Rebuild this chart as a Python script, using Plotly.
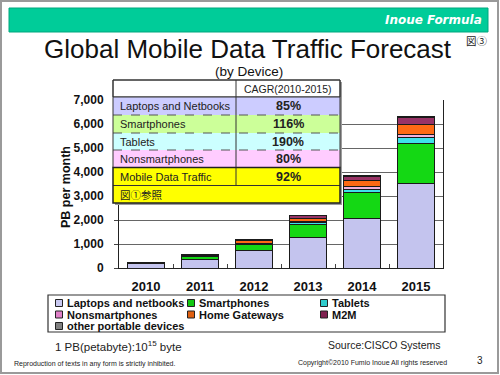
import plotly.graph_objects as go

# ---------------- data ----------------
years = ["2010", "2011", "2012", "2013", "2014", "2015"]
laptops = [180, 360, 720, 1260, 2070, 3540]
smartphones = [40, 110, 250, 570, 1070, 1660]
tablets = [3, 15, 40, 50, 140, 220]
nonsmartphones = [10, 20, 30, 40, 110, 160]
home_gateways = [5, 40, 100, 150, 250, 380]
m2m = [3, 10, 30, 100, 190, 300]
other_portable = [2, 5, 10, 15, 25, 40]

series_names = ["Laptops and netbooks", "Smartphones", "Tablets", "Nonsmartphones",
                "Home Gateways", "M2M", "other portable devices"]
series_values = [laptops, smartphones, tablets, nonsmartphones, home_gateways, m2m, other_portable]
bar_colors = ["#C4C4EE", "#14D814", "#3DE3EA", "#F4B2DC", "#FF6A14", "#993366", "#808080"]
legend_colors = ["#C8C8F0", "#12C812", "#30CCCC", "#E080C8", "#E06010", "#802050", "#808080"]

table_labels = ["Laptops and Netbooks", "Smartphones", "Tablets", "Nonsmartphones", "Mobile Data Traffic"]
table_cagr = ["85%", "116%", "190%", "80%", "92%"]
table_colors = ["#CCCCFF", "#CCFF99", "#CCFFFF", "#FFCCFF", "#FFFF00"]

ytick_vals = [0, 1000, 2000, 3000, 4000, 5000, 6000, 7000]

# ---------------- geometry helpers ----------------
W, H = 500, 375
PL, PR, PT, PB = 119, 443, 100, 268


def px(x):
    return (x - PL) / (PR - PL)


def py(y):
    return (PB - y) / (PB - PT)


FONT = "Liberation Sans, Arial, sans-serif"

fig = go.Figure()
for name, vals, col in zip(series_names, series_values, bar_colors):
    fig.add_trace(go.Bar(
        x=years, y=vals, name=name, marker=dict(color=col, line=dict(color="#1a1a1a", width=1)),
        showlegend=False,
    ))

shapes = []
annotations = []

# slide frame
shapes.append(dict(type="rect", xref="paper", yref="paper", x0=px(1), x1=px(498), y0=py(1), y1=py(373),
                   line=dict(color="#9a9a9a", width=2), fillcolor="rgba(0,0,0,0)", layer="below"))
# banner
shapes.append(dict(type="rect", xref="paper", yref="paper", x0=px(9), x1=px(488), y0=py(8), y1=py(32),
                   line=dict(color="#00A77E", width=1), fillcolor="#00CC99", layer="above"))
annotations.append(dict(xref="paper", yref="paper", x=px(484), y=py(20.5), xanchor="right", yanchor="middle",
                        text="<b><i>Inoue Formula</i></b>", showarrow=False,
                        font=dict(family="DejaVu Sans, sans-serif", size=12, color="white")))
# title
annotations.append(dict(xref="paper", yref="paper", x=px(248), y=py(49), xanchor="center", yanchor="middle",
                        text="Global Mobile Data Traffic Forecast", showarrow=False,
                        font=dict(family=FONT, size=26, color="#111")))
annotations.append(dict(xref="paper", yref="paper", x=px(464), y=py(41), xanchor="left", yanchor="middle",
                        text="図③", showarrow=False,
                        font=dict(family="Noto Sans CJK JP, sans-serif", size=10.5, color="#222")))
annotations.append(dict(xref="paper", yref="paper", x=px(248.5), y=py(71), xanchor="center", yanchor="middle",
                        text="(by Device)", showarrow=False,
                        font=dict(family=FONT, size=13.5, color="#111")))

# ---------------- CAGR table ----------------
TL, TM, TR = 113, 236, 340
row_edges = [80, 97, 115, 133, 150, 167.5, 185.5, 203]
# shadow
shapes.append(dict(type="rect", xref="paper", yref="paper", x0=px(TL + 2), x1=px(TR + 2),
                   y0=py(row_edges[0] + 2), y1=py(row_edges[-1] + 2),
                   line=dict(width=0), fillcolor="#9c9c9c", layer="above"))
# header
shapes.append(dict(type="rect", xref="paper", yref="paper", x0=px(TL), x1=px(TR),
                   y0=py(row_edges[0]), y1=py(row_edges[1]),
                   line=dict(color="#333", width=1), fillcolor="white", layer="above"))
for i, (lab, cg, col) in enumerate(zip(table_labels, table_cagr, table_colors)):
    y0, y1 = row_edges[i + 1], row_edges[i + 2]
    shapes.append(dict(type="rect", xref="paper", yref="paper", x0=px(TL), x1=px(TR), y0=py(y0), y1=py(y1),
                       line=dict(width=0), fillcolor=col, layer="above"))
    annotations.append(dict(xref="paper", yref="paper", x=px(TL + 5), y=py((y0 + y1) / 2),
                            xanchor="left", yanchor="middle", text=lab, showarrow=False,
                            font=dict(family=FONT, size=11, color="#222")))
    annotations.append(dict(xref="paper", yref="paper", x=px((TM + TR) / 2), y=py((y0 + y1) / 2),
                            xanchor="center", yanchor="middle", text="<b>" + cg + "</b>", showarrow=False,
                            font=dict(family=FONT, size=12.5, color="#222")))
# last merged row
shapes.append(dict(type="rect", xref="paper", yref="paper", x0=px(TL), x1=px(TR),
                   y0=py(row_edges[6]), y1=py(row_edges[7]),
                   line=dict(width=0), fillcolor="#FFFF00", layer="above"))
annotations.append(dict(xref="paper", yref="paper", x=px(TL + 5), y=py((row_edges[6] + row_edges[7]) / 2),
                        xanchor="left", yanchor="middle", text="図①参照", showarrow=False,
                        font=dict(family="Noto Sans CJK JP, sans-serif", size=10.5, color="#222")))
annotations.append(dict(xref="paper", yref="paper", x=px((TM + TR) / 2), y=py((row_edges[0] + row_edges[1]) / 2),
                        xanchor="center", yanchor="middle", text="CAGR(2010-2015)", showarrow=False,
                        font=dict(family=FONT, size=10.5, color="#222")))
# borders
for k in [2, 3, 4]:
    shapes.append(dict(type="line", xref="paper", yref="paper", x0=px(TL), x1=px(TR),
                       y0=py(row_edges[k]), y1=py(row_edges[k]),
                       line=dict(color="#555", width=1, dash="dash"), layer="above"))
for k in [1, 5, 6]:
    shapes.append(dict(type="line", xref="paper", yref="paper", x0=px(TL), x1=px(TR),
                       y0=py(row_edges[k]), y1=py(row_edges[k]),
                       line=dict(color="#333", width=1), layer="above"))
shapes.append(dict(type="line", xref="paper", yref="paper", x0=px(TM), x1=px(TM),
                   y0=py(row_edges[0]), y1=py(row_edges[6]), line=dict(color="#333", width=1), layer="above"))
shapes.append(dict(type="rect", xref="paper", yref="paper", x0=px(TL), x1=px(TR),
                   y0=py(row_edges[0]), y1=py(row_edges[5]), line=dict(color="#333", width=1),
                   fillcolor="rgba(0,0,0,0)", layer="above"))
shapes.append(dict(type="rect", xref="paper", yref="paper", x0=px(TL), x1=px(TR),
                   y0=py(row_edges[5]), y1=py(row_edges[7]), line=dict(color="#222", width=1.5),
                   fillcolor="rgba(0,0,0,0)", layer="above"))

# y-axis title
annotations.append(dict(xref="paper", yref="paper", x=px(66), y=py(187), xanchor="center", yanchor="middle",
                        text="<b>PB per month</b>", textangle=-90, showarrow=False,
                        font=dict(family=FONT, size=12.5, color="#111")))

# ---------------- legend (drawn) ----------------
shapes.append(dict(type="rect", xref="paper", yref="paper", x0=px(48), x1=px(445), y0=py(295), y1=py(332),
                   line=dict(color="#333", width=1.2), fillcolor="white", layer="above"))
col_x = [59, 191, 324]
row_y = [303, 314.5, 326]
for i, (name, col) in enumerate(zip(series_names, legend_colors)):
    cx, cy = col_x[i % 3], row_y[i // 3]
    shapes.append(dict(type="rect", xref="paper", yref="paper", x0=px(cx - 3.5), x1=px(cx + 3.5),
                       y0=py(cy - 3.5), y1=py(cy + 3.5), line=dict(color="#222", width=1),
                       fillcolor=col, layer="above"))
    annotations.append(dict(xref="paper", yref="paper", x=px(cx + 6), y=py(cy), xanchor="left",
                            yanchor="middle", text="<b>" + name + "</b>", showarrow=False,
                            font=dict(family=FONT, size=11, color="#111")))

# footnotes
annotations.append(dict(xref="paper", yref="paper", x=px(53), y=py(346), xanchor="left", yanchor="middle",
                        text="1 PB(petabyte):10<sup>15</sup> byte", showarrow=False,
                        font=dict(family=FONT, size=11.5, color="#222")))
annotations.append(dict(xref="paper", yref="paper", x=px(443), y=py(344.5), xanchor="right", yanchor="middle",
                        text="Source:CISCO Systems", showarrow=False,
                        font=dict(family=FONT, size=10.5, color="#222")))
annotations.append(dict(xref="paper", yref="paper", x=px(12), y=py(364), xanchor="left", yanchor="middle",
                        text="Reproduction of texts in any form is strictly inhibited.", showarrow=False,
                        font=dict(family=FONT, size=7, color="#222")))
annotations.append(dict(xref="paper", yref="paper", x=px(449), y=py(362.5), xanchor="right", yanchor="middle",
                        text="Copyright©2010 Fumio Inoue All rights reserved", showarrow=False,
                        font=dict(family=FONT, size=7, color="#222")))
annotations.append(dict(xref="paper", yref="paper", x=px(480), y=py(360), xanchor="center", yanchor="middle",
                        text="3", showarrow=False, font=dict(family=FONT, size=10, color="#222")))

fig.update_layout(
    width=W, height=H,
    margin=dict(l=PL, r=W - PR, t=PT, b=H - PB, pad=0),
    paper_bgcolor="white", plot_bgcolor="white",
    barmode="stack", bargap=0.315,
    showlegend=False,
    shapes=shapes, annotations=annotations,
    xaxis=dict(type="category", showline=True, linecolor="#222", linewidth=1,
               ticks="inside", tickson="boundaries", ticklen=4, tickcolor="#444",
               ticklabelstandoff=6,
               tickfont=dict(family=FONT, size=13, color="#111", weight="bold"),
               showgrid=False),
    yaxis=dict(range=[0, 7000], tickvals=ytick_vals, tickformat=",d", showline=True, linecolor="#222",
               linewidth=1, mirror=True, showgrid=True, gridcolor="#666", gridwidth=1,
               ticks="outside", ticklen=4, tickcolor="#444", ticklabelstandoff=8,
               tickfont=dict(family=FONT, size=12, color="#111", weight="bold"), zeroline=False),
)

fig.write_html("out.html", config={"displayModeBar": False},
               post_script="document.body.style.margin='0';document.body.style.overflow='hidden';")
